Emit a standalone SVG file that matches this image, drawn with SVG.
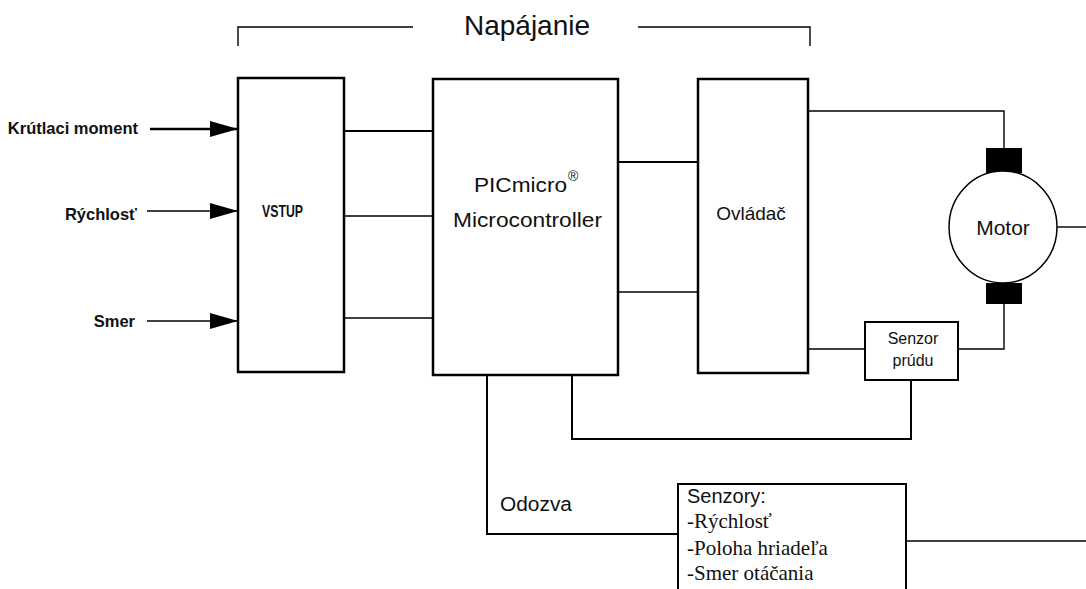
<svg xmlns="http://www.w3.org/2000/svg" width="1086" height="589" viewBox="0 0 1086 589">
<style>
.box{fill:#fff;stroke:#000;stroke-width:2.5}
.thin{fill:none;stroke:#000;stroke-width:1.4}
.mid{fill:none;stroke:#000;stroke-width:2}
.thick{fill:none;stroke:#000;stroke-width:2.4}
.sans{font-family:"Liberation Sans",Arial,sans-serif;fill:#111}
.lbl{font-family:"Liberation Sans",Arial,sans-serif;font-weight:bold;fill:#111;font-size:16.5px}
.serif{font-family:"Liberation Serif","Times New Roman",serif;fill:#111;font-size:21px}
</style>
<defs>
<marker id="ah" markerWidth="28" markerHeight="16" refX="28" refY="8" orient="auto" markerUnits="userSpaceOnUse">
<path d="M0,0 L28,8 L0,16 Z" fill="#000"/>
</marker>
</defs>
<rect width="1086" height="589" fill="#fff"/>

<g id="bracket">
<path class="thin" d="M238,46 V27 H413 M638,27 H810 V46"/>
<text class="sans" x="527" y="35" font-size="28" text-anchor="middle">Napájanie</text>
</g>

<g id="connectors">
<line class="thick" x1="150" y1="129" x2="238" y2="129" marker-end="url(#ah)"/>
<line class="thin" x1="147" y1="211" x2="238" y2="211" marker-end="url(#ah)"/>
<line class="thin" x1="147" y1="321" x2="238" y2="321" marker-end="url(#ah)"/>
<line class="mid" x1="344" y1="131" x2="433" y2="131"/>
<line class="thin" x1="344" y1="216" x2="433" y2="216"/>
<line class="thin" x1="344" y1="318" x2="433" y2="318"/>
<line class="mid" x1="618" y1="162" x2="698" y2="162"/>
<line class="thin" x1="618" y1="292" x2="698" y2="292"/>
<path class="thin" d="M808,111 H1004 V148"/>
<path class="thin" d="M1004,304 V349 H958"/>
<line class="thin" x1="808" y1="349" x2="865" y2="349"/>
<line class="thin" x1="1057" y1="227" x2="1086" y2="227"/>
<path class="mid" d="M572,375 V439 H911 V380"/>
<path class="mid" d="M487,375 V534 H678"/>
<line class="thin" x1="906" y1="541" x2="1086" y2="541"/>
<text class="sans" x="500" y="511" font-size="20" textLength="72" lengthAdjust="spacingAndGlyphs">Odozva</text>
</g>

<g id="labels">
<text class="lbl" x="138" y="134" text-anchor="end">Krútlaci moment</text>
<text class="lbl" x="137" y="220" text-anchor="end">Rýchlosť</text>
<text class="lbl" x="135" y="327" text-anchor="end">Smer</text>
</g>

<g id="vstup">
<rect class="box" x="238" y="78" width="106" height="294"/>
<text class="lbl" x="262" y="217" font-size="12" textLength="41" lengthAdjust="spacingAndGlyphs">VSTUP</text>
</g>

<g id="mcu">
<rect class="box" x="433" y="79" width="185" height="296"/>
<text class="sans" x="474" y="192" font-size="21" textLength="93" lengthAdjust="spacingAndGlyphs">PICmicro</text>
<text class="sans" x="568" y="181" font-size="14">®</text>
<text class="sans" x="453" y="227" font-size="21" textLength="149" lengthAdjust="spacingAndGlyphs">Microcontroller</text>
</g>

<g id="ovladac">
<rect class="box" x="698" y="79" width="110" height="294"/>
<text class="sans" x="751" y="220" font-size="19" text-anchor="middle">Ovládač</text>
</g>

<g id="motor">
<rect x="986" y="148" width="36" height="25" fill="#000"/>
<rect x="986" y="283" width="36" height="21" fill="#000"/>
<ellipse cx="1003" cy="227" rx="54" ry="56" fill="#fff" stroke="#000" stroke-width="1.5"/>
<text class="sans" x="1003" y="235" font-size="21" text-anchor="middle">Motor</text>
</g>

<g id="senzor-prudu">
<rect x="865" y="322" width="93" height="58" fill="#fff" stroke="#000" stroke-width="2"/>
<text class="sans" x="913" y="344" font-size="16" text-anchor="middle">Senzor</text>
<text class="sans" x="913" y="366" font-size="16" text-anchor="middle">prúdu</text>
</g>

<g id="senzory">
<rect x="678" y="484" width="228" height="120" fill="#fff" stroke="#000" stroke-width="2"/>
<text class="sans" x="687" y="503" font-size="20">Senzory:</text>
<text class="serif" x="687" y="528">-Rýchlosť</text>
<text class="serif" x="687" y="555">-Poloha hriadeľa</text>
<text class="serif" x="687" y="580">-Smer otáčania</text>
</g>
</svg>
